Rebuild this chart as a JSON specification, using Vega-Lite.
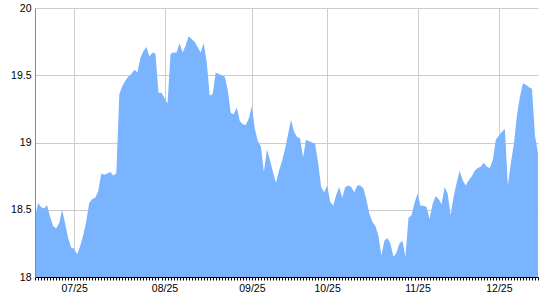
{
 "$schema": "https://vega.github.io/schema/vega-lite/v6.json",
 "width": 503,
 "height": 269,
 "autosize": "none",
 "padding": {"left": 35, "top": 8, "right": 2, "bottom": 23},
 "background": "white",
 "config": {"view": {"stroke": null}, "font": "Liberation Sans", "axis": {"labelFont": "Liberation Sans", "labelFontSize": 10.5, "labelColor": "#000000"}},
 "data": {"values": [
  {"i":0,"v":18.44},{"i":1,"v":18.55},{"i":2,"v":18.52},{"i":3,"v":18.51},{"i":4,"v":18.535},{"i":5,"v":18.45},{"i":6,"v":18.38},{"i":7,"v":18.36},{"i":8,"v":18.40},{"i":9,"v":18.50},
  {"i":10,"v":18.40},{"i":11,"v":18.29},{"i":12,"v":18.22},{"i":13,"v":18.21},{"i":14,"v":18.17},{"i":15,"v":18.23},{"i":16,"v":18.31},{"i":17,"v":18.41},{"i":18,"v":18.55},{"i":19,"v":18.58},
  {"i":20,"v":18.59},{"i":21,"v":18.64},{"i":22,"v":18.77},{"i":23,"v":18.76},{"i":24,"v":18.77},{"i":25,"v":18.78},{"i":26,"v":18.755},{"i":27,"v":18.77},{"i":28,"v":19.36},{"i":29,"v":19.42},
  {"i":30,"v":19.46},{"i":31,"v":19.49},{"i":32,"v":19.51},{"i":33,"v":19.54},{"i":34,"v":19.52},{"i":35,"v":19.63},{"i":36,"v":19.68},{"i":37,"v":19.71},{"i":38,"v":19.64},{"i":39,"v":19.67},
  {"i":40,"v":19.66},{"i":41,"v":19.37},{"i":42,"v":19.37},{"i":43,"v":19.33},{"i":44,"v":19.29},{"i":45,"v":19.66},{"i":46,"v":19.67},{"i":47,"v":19.67},{"i":48,"v":19.74},{"i":49,"v":19.67},
  {"i":50,"v":19.72},{"i":51,"v":19.79},{"i":52,"v":19.77},{"i":53,"v":19.75},{"i":54,"v":19.71},{"i":55,"v":19.67},{"i":56,"v":19.74},{"i":57,"v":19.60},{"i":58,"v":19.35},{"i":59,"v":19.36},
  {"i":60,"v":19.52},{"i":61,"v":19.51},{"i":62,"v":19.50},{"i":63,"v":19.49},{"i":64,"v":19.39},{"i":65,"v":19.22},{"i":66,"v":19.21},{"i":67,"v":19.26},{"i":68,"v":19.16},{"i":69,"v":19.135},
  {"i":70,"v":19.13},{"i":71,"v":19.18},{"i":72,"v":19.27},{"i":73,"v":19.10},{"i":74,"v":19.01},{"i":75,"v":18.97},{"i":76,"v":18.78},{"i":77,"v":18.95},{"i":78,"v":18.87},{"i":79,"v":18.78},
  {"i":80,"v":18.70},{"i":81,"v":18.79},{"i":82,"v":18.86},{"i":83,"v":18.95},{"i":84,"v":19.06},{"i":85,"v":19.17},{"i":86,"v":19.08},{"i":87,"v":19.04},{"i":88,"v":19.03},{"i":89,"v":18.89},
  {"i":90,"v":19.02},{"i":91,"v":19.01},{"i":92,"v":19.00},{"i":93,"v":18.99},{"i":94,"v":18.85},{"i":95,"v":18.67},{"i":96,"v":18.63},{"i":97,"v":18.68},{"i":98,"v":18.56},{"i":99,"v":18.53},
  {"i":100,"v":18.61},{"i":101,"v":18.67},{"i":102,"v":18.59},{"i":103,"v":18.67},{"i":104,"v":18.68},{"i":105,"v":18.67},{"i":106,"v":18.63},{"i":107,"v":18.68},{"i":108,"v":18.68},{"i":109,"v":18.66},
  {"i":110,"v":18.58},{"i":111,"v":18.47},{"i":112,"v":18.41},{"i":113,"v":18.38},{"i":114,"v":18.31},{"i":115,"v":18.16},{"i":116,"v":18.27},{"i":117,"v":18.29},{"i":118,"v":18.25},{"i":119,"v":18.15},
  {"i":120,"v":18.18},{"i":121,"v":18.25},{"i":122,"v":18.27},{"i":123,"v":18.15},{"i":124,"v":18.44},{"i":125,"v":18.46},{"i":126,"v":18.55},{"i":127,"v":18.62},{"i":128,"v":18.53},{"i":129,"v":18.53},
  {"i":130,"v":18.52},{"i":131,"v":18.43},{"i":132,"v":18.54},{"i":133,"v":18.60},{"i":134,"v":18.58},{"i":135,"v":18.54},{"i":136,"v":18.67},{"i":137,"v":18.62},{"i":138,"v":18.46},{"i":139,"v":18.60},
  {"i":140,"v":18.70},{"i":141,"v":18.79},{"i":142,"v":18.72},{"i":143,"v":18.68},{"i":144,"v":18.72},{"i":145,"v":18.75},{"i":146,"v":18.79},{"i":147,"v":18.81},{"i":148,"v":18.82},{"i":149,"v":18.85},
  {"i":150,"v":18.82},{"i":151,"v":18.81},{"i":152,"v":18.87},{"i":153,"v":19.02},{"i":154,"v":19.05},{"i":155,"v":19.08},{"i":156,"v":19.10},{"i":157,"v":18.68},{"i":158,"v":18.85},{"i":159,"v":18.99},
  {"i":160,"v":19.20},{"i":161,"v":19.34},{"i":162,"v":19.44},{"i":163,"v":19.43},{"i":164,"v":19.41},{"i":165,"v":19.40},{"i":166,"v":19.05},{"i":167,"v":18.92}
 ]},
 "layer": [
  {
   "mark": {"type": "area", "color": "#7AB4FF"},
   "encoding": {
    "x": {"field": "i", "type": "ordinal", "sort": "ascending", "scale": {"type": "point", "padding": 0},
          "axis": {"orient": "bottom", "values": [13, 43, 72, 97, 127, 154], "grid": true, "gridColor": "#CCCCCC", "domain": false, "ticks": false, "labels": false, "title": null}},
    "y": {"field": "v", "type": "quantitative", "scale": {"domain": [18, 20], "nice": false, "zero": false},
          "axis": {"orient": "left", "values": [18, 18.5, 19, 19.5, 20], "grid": true, "gridColor": "#CCCCCC", "domain": false, "ticks": false, "labels": false, "title": null}},
    "y2": {"datum": 18}
   }
  },
  {
   "mark": {"type": "area", "opacity": 0},
   "encoding": {
    "x": {"field": "i", "type": "ordinal", "sort": "ascending", "scale": {"type": "point", "padding": 0},
          "axis": {"orient": "bottom", "grid": false, "domainColor": "#000000", "tickColor": "#000000", "tickSize": 3, "labelPadding": 3, "labelAngle": 0, "labelOverlap": false, "labelBound": false, "zindex": 1, "title": null,
                   "labelExpr": "datum.value == 13 ? '07/25' : datum.value == 43 ? '08/25' : datum.value == 72 ? '09/25' : datum.value == 97 ? '10/25' : datum.value == 127 ? '11/25' : datum.value == 154 ? '12/25' : ''"}},
    "y": {"field": "v", "type": "quantitative", "scale": {"domain": [18, 20], "nice": false, "zero": false},
          "axis": {"orient": "left", "values": [18, 18.5, 19, 19.5, 20], "grid": false, "domainColor": "#888888", "ticks": false, "labelPadding": 4, "format": ".1~f", "zindex": 1, "title": null}},
    "y2": {"datum": 18}
   }
  }
 ],
 "resolve": {"axis": {"x": "independent", "y": "independent"}}
}
